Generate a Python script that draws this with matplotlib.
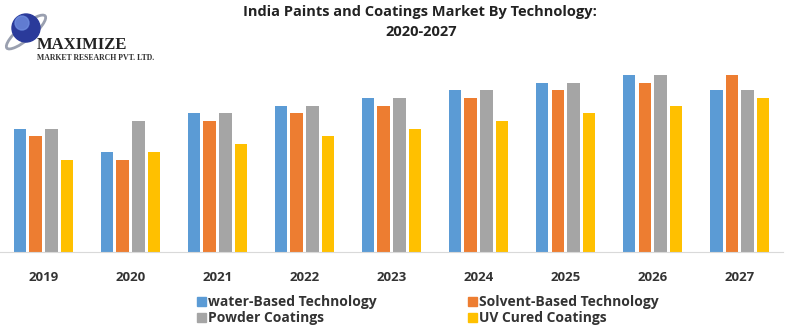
import matplotlib.pyplot as plt
import numpy as np
from matplotlib.patches import Circle, Ellipse

years = ["2019", "2020", "2021", "2022", "2023", "2024", "2025", "2026", "2027"]
water_based = [16, 13, 18, 19, 20, 21, 22, 23, 21]
solvent_based = [15, 12, 17, 18, 19, 20, 21, 22, 23]
powder = [16, 17, 18, 19, 20, 21, 22, 23, 21]
uv_cured = [12, 13, 14, 15, 16, 17, 18, 19, 20]

series = [
    ("water-Based Technology", water_based, "#5B9BD5"),
    ("Solvent-Based Technology", solvent_based, "#ED7D31"),
    ("Powder Coatings", powder, "#A5A5A5"),
    ("UV Cured Coatings", uv_cured, "#FFC000"),
]

fig = plt.figure(figsize=(8, 3.32), dpi=100)
ax = fig.add_axes([0.0, 0.241, 0.979, 0.58])

x = np.arange(len(years))
pitch = 0.18
width = 0.145
for i, (name, vals, color) in enumerate(series):
    ax.bar(x + (i - 1.5) * pitch, vals, width, color=color, label=name)

ax.set_xlim(-0.5, len(years) - 0.5)
ax.set_ylim(0, 25)
ax.set_yticks([])
for s in ["top", "right", "left"]:
    ax.spines[s].set_visible(False)
ax.spines["bottom"].set_color("#D9D9D9")
ax.set_xticks(x)
ax.set_xticklabels(years, fontsize=9.5, fontweight="bold", color="#333333", family="Open Sans")
ax.tick_params(axis="x", length=0, pad=14)

fig.text(0.525, 0.963, "India Paints and Coatings Market By Technology:", ha="center", va="center",
         fontsize=10.5, fontweight="bold", color="#222222", family="Open Sans")
fig.text(0.526, 0.903, "2020-2027", ha="center", va="center",
         fontsize=10.5, fontweight="bold", color="#222222", family="Open Sans")

# legend, laid out by hand in two columns
leg_pos = [(0.246, 0.09), (0.585, 0.09), (0.246, 0.042), (0.585, 0.042)]
for (name, vals, color), (lx, ly) in zip(series, leg_pos):
    fig.patches.append(plt.Rectangle((lx, ly - 0.012), 0.011, 0.026, transform=fig.transFigure,
                                     color=color, figure=fig))
    fig.text(lx + 0.014, ly, name, va="center", ha="left", fontsize=10, fontweight="bold",
             color="#333333", family="Open Sans")

# logo
lax = fig.add_axes([0.0, 0.78, 0.22, 0.22])
lax.set_xlim(0, 176)
lax.set_ylim(73, 0)
lax.axis("off")
lax.add_patch(Ellipse((26, 32), 50, 14, angle=-40, fill=False, ec="#9aa0b0", lw=2))
lax.add_patch(Circle((26, 28), 14, color="#2a3a9a"))
lax.add_patch(Circle((22, 23), 7, color="#6f8ee0", alpha=0.8))
lax.text(37, 45, "MAXIMIZE", fontsize=12, fontweight="bold", family="Liberation Serif",
         color="#222222", va="center", ha="left")
lax.text(37, 58, "MARKET RESEARCH PVT. LTD.", fontsize=5.6, fontweight="bold", family="Liberation Serif",
         color="#333333", va="center", ha="left")

fig.savefig("out.png", dpi=100)
